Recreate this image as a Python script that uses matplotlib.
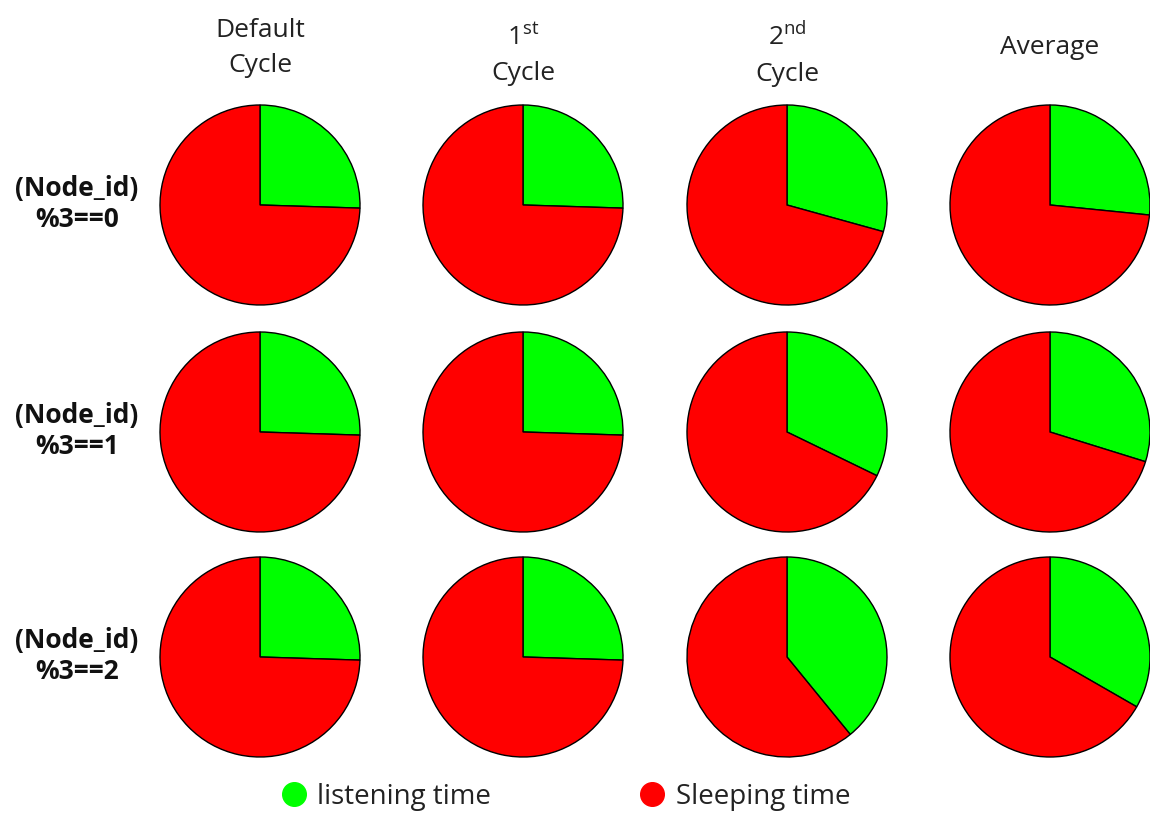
import matplotlib.pyplot as plt
from matplotlib.lines import Line2D

plt.rcParams['font.family'] = ['Open Sans', 'DejaVu Sans']

# listening-time share of each cycle (rest is sleeping time)
col_labels = ['Default\nCycle', '$\\mathregular{1^{st}}$\nCycle', '$\\mathregular{2^{nd}}$\nCycle', 'Average']
row_labels = ['(Node_id)\n%3==0', '(Node_id)\n%3==1', '(Node_id)\n%3==2']
listening_row0 = [0.255, 0.255, 0.293, 0.266]
listening_row1 = [0.255, 0.255, 0.322, 0.298]
listening_row2 = [0.255, 0.255, 0.391, 0.333]
listening = [listening_row0, listening_row1, listening_row2]

green = '#00ff00'
red = '#ff0000'

W, H = 1150, 814
fig = plt.figure(figsize=(W / 100, H / 100), dpi=100)

centers_x = [260, 523, 787, 1050]
centers_y = [205, 432, 657]
header_y = [48, 55, 55, 48]
r = 100
box = 2 * r * 1.05

for i, cy in enumerate(centers_y):
    for j, cx in enumerate(centers_x):
        ax = fig.add_axes([(cx - box / 2) / W, 1 - (cy + box / 2) / H, box / W, box / H])
        v = listening[i][j]
        ax.pie([v, 1 - v], colors=[green, red], startangle=90, counterclock=False,
               wedgeprops=dict(edgecolor='black', linewidth=1))
        ax.set_xlim(-1.05, 1.05)
        ax.set_ylim(-1.05, 1.05)
        ax.set_aspect('equal')
        ax.axis('off')

# column headers
for j, cx in enumerate(centers_x):
    fig.text(cx / W, 1 - header_y[j] / H, col_labels[j], ha='center', va='center', fontsize=19,
             color='#222222', linespacing=1.55)

# row headers
for i, cy in enumerate(centers_y):
    fig.text(77 / W, 1 - (cy - 1) / H, row_labels[i], ha='center', va='center', fontsize=19,
             fontweight='bold', color='#111111', linespacing=1.15)

handles = [Line2D([], [], marker='o', linestyle='none', markerfacecolor=green,
                  markeredgecolor=green, markersize=17),
           Line2D([], [], marker='o', linestyle='none', markerfacecolor=red,
                  markeredgecolor=red, markersize=17)]
fig.legend(handles, ['listening time', 'Sleeping time'], loc='center',
           bbox_to_anchor=(565 / W, 1 - 797 / H), ncol=2, frameon=False, fontsize=20,
           columnspacing=5.3, handlelength=1.0, handletextpad=0.35, labelcolor='#222222')

fig.savefig('out.png', dpi=100, facecolor='white')
